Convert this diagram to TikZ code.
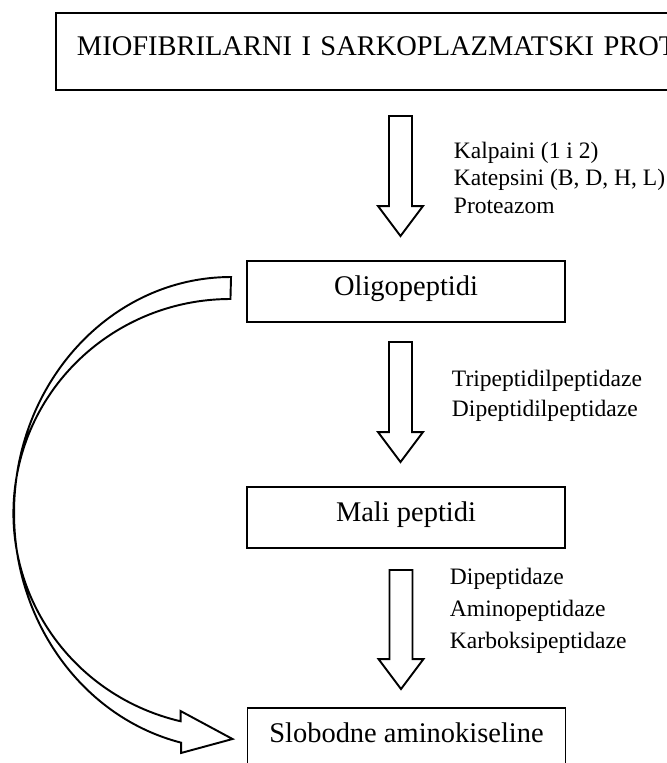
\documentclass[tikz,border=0pt]{standalone}
\usepackage{fontspec}
\setmainfont{Liberation Serif}
\usetikzlibrary{calc, positioning}
\tikzset{
  every picture/.style={line width=1.1pt},
  box/.style={draw, rectangle, align=center, minimum width=6.36cm, minimum height=1.22cm,
    text height=0.7em, text depth=0.25em, font=\fontsize{16.2}{19}\selectfont},
  fat/.style={draw, fill=white, line join=miter},
  enz/.style={anchor=north west, align=left, inner sep=0pt, font=\fontsize{13.4}{#1}\selectfont},
  enz/.default=16pt,
}

\begin{document}
\begin{tikzpicture}[
    bypass/.style={fat},
  ]
  \newcommand{\fatarrow}[2]{\draw[fat] (#2) -- ++(0.45,0.6) -- ++(-0.22,0) |- ($(#1)+(0.23,0)$)
    -- ($(#1)+(-0.23,0)$) |- ($(#2)+(-0.23,0.6)$) -- ++(-0.22,0) -- cycle;}
  \useasboundingbox (0,0) rectangle (13.34,-15.26);
  \clip (0,0) rectangle (13.34,-15.26);

  % ---- boxes
  \node[box, anchor=west, align=left, text width=13cm, inner xsep=0.42cm, minimum height=1.54cm] (prot) at (1.10,-1.03)
    {MIOFIBRILARNI I SARKOPLAZMATSKI PROT};
  \node[box] (oli)  at (8.12,-5.83)  {Oligopeptidi};
  \node[box] (mali) at (8.12,-10.35) {Mali peptidi};
  \node[box] (slo)  at (8.13,-14.77) {Slobodne aminokiseline};

  % ---- block arrows
  \coordinate (t1) at ($(oli.north)+(-0.11,0.48)$);
  \coordinate (t2) at ($(mali.north)+(-0.11,0.48)$);
  \coordinate (t3) at ($(slo.north)+(-0.11,0.36)$);
  \coordinate (s1) at ($(t1 |- prot.south)+(0,-0.50)$);
  \coordinate (s2) at ($(t2 |- oli.south)+(0,-0.38)$);
  \coordinate (s3) at ($(t3 |- mali.south)+(0,-0.42)$);
  \fatarrow{s1}{t1}
  \fatarrow{s2}{t2}
  \fatarrow{s3}{t3}

  % ---- enzymes
  \node[enz=15.6pt] (e1) at (9.06,-2.82)  {Kalpaini (1 i 2)\\Katepsini (B, D, H, L)\\Proteazom};
  \node[enz=17pt]   (e2) at (9.02,-7.38)  {Tripeptidilpeptidaze\\Dipeptidilpeptidaze};
  \node[enz=18.2pt] (e3) at (8.98,-11.34) {Dipeptidaze\\Aminopeptidaze\\Karboksipeptidaze};

  % ---- shortcut round the left
  \coordinate (tail) at ($(oli.west)+(-0.30,0.29)$);
  \draw[bypass] (tail) arc[start angle=90, end angle=256.7, x radius=4.34, y radius=4.72]
    -- ++(0,-0.206) -- ($(slo.west)+(-0.28,-0.01)$) -- ++(-1.04,0.56) -- ++(0,-0.205)
    arc[start angle=256.7, end angle=90, x radius=4.34, y radius=4.28] -- cycle;
\end{tikzpicture}
\end{document}
